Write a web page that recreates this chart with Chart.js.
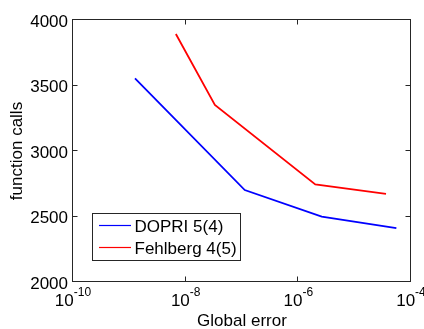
<!DOCTYPE html>
<html>
<head>
<meta charset="utf-8">
<script src="https://cdn.jsdelivr.net/npm/chart.js@4"></script>
<style>
  html, body { margin: 0; padding: 0; background: #fff; }
  #wrap { width: 424px; height: 329px; }
</style>
</head>
<body>
<div id="wrap"><canvas id="grafico" width="424" height="329"></canvas></div>
<script>
// data
const xTickExps = [-10, -8, -6, -4];
const yTicks = [2000, 2500, 3000, 3500, 4000];
const dopriErr = [1.26e-9, 1.12e-7, 2.6e-6, 5.5e-5];
const dopriCalls = [3555, 2702, 2499, 2412];
const fehlErr = [6.7e-9, 3.3e-8, 2.0e-6, 3.6e-5];
const fehlCalls = [3893, 3351, 2745, 2672];
const seriesNames = ['DOPRI 5(4)', 'Fehlberg 4(5)'];
const xTitle = 'Global error';
const yTitle = 'function calls';

const FONT = '"Liberation Sans", Arial, sans-serif';
const AXIS = '#262626';

const toPoints = (xs, ys) => xs.map((x, i) => ({ x: x, y: ys[i] }));

// axes box, inward ticks, labels and legend drawn on top (matlab style)
const matlabAxes = {
  id: 'matlabAxes',
  afterDraw(chart) {
    const ctx = chart.ctx;
    const a = chart.chartArea;
    const sx = chart.scales.x, sy = chart.scales.y;
    const L = a.left - 0.5, R = a.right - 0.5, T = a.top - 0.5, B = a.bottom - 0.5;
    ctx.save();
    ctx.strokeStyle = AXIS;
    ctx.lineWidth = 1;
    ctx.strokeRect(L, T, R - L, B - T);

    ctx.beginPath();
    xTickExps.forEach(e => {
      const px = Math.round(sx.getPixelForValue(Math.pow(10, e))) - 0.5;
      ctx.moveTo(px, B); ctx.lineTo(px, B - 5);
      ctx.moveTo(px, T); ctx.lineTo(px, T + 5);
    });
    yTicks.forEach(v => {
      const py = Math.round(sy.getPixelForValue(v)) - 0.5;
      ctx.moveTo(L, py); ctx.lineTo(L + 5, py);
      ctx.moveTo(R, py); ctx.lineTo(R - 5, py);
    });
    ctx.stroke();

    ctx.fillStyle = '#000';
    // y tick labels
    ctx.font = '17px ' + FONT;
    ctx.textAlign = 'right';
    ctx.textBaseline = 'alphabetic';
    yTicks.forEach(v => {
      ctx.fillText(String(v), a.left - 5, sy.getPixelForValue(v) + 6.5);
    });

    // x tick labels 10^e
    xTickExps.forEach(e => {
      const px = sx.getPixelForValue(Math.pow(10, e));
      ctx.font = '17px ' + FONT;
      const wb = ctx.measureText('10').width;
      ctx.font = '12px ' + FONT;
      const we = ctx.measureText(String(e)).width;
      const x0 = px - (wb + we) / 2;
      ctx.textAlign = 'left';
      ctx.font = '17px ' + FONT;
      ctx.fillText('10', x0, 306);
      ctx.font = '12px ' + FONT;
      ctx.fillText(String(e), x0 + wb, 296);
    });

    // axis titles
    ctx.font = '17px ' + FONT;
    ctx.textAlign = 'center';
    ctx.fillText(xTitle, (a.left + a.right) / 2, 326);
    ctx.save();
    ctx.translate(22, (a.top + a.bottom) / 2);
    ctx.rotate(-Math.PI / 2);
    ctx.fillText(yTitle, 0, 0);
    ctx.restore();

    // legend box
    ctx.fillStyle = '#fff';
    ctx.fillRect(92.5, 213.5, 148, 47);
    ctx.strokeStyle = AXIS;
    ctx.strokeRect(92.5, 213.5, 148, 47);
    chart.data.datasets.forEach((ds, i) => {
      const ly = 225.5 + i * 22;
      ctx.strokeStyle = ds.borderColor;
      ctx.lineWidth = 1.2;
      ctx.beginPath();
      ctx.moveTo(99, ly); ctx.lineTo(131, ly);
      ctx.stroke();
      ctx.fillStyle = '#000';
      ctx.textAlign = 'left';
      ctx.fillText(ds.label, 134.5, ly + 6.5);
    });
    ctx.restore();
  }
};

new Chart(document.getElementById('grafico'), {
  type: 'line',
  data: {
    datasets: [{
      label: seriesNames[0],
      data: toPoints(dopriErr, dopriCalls),
      borderColor: '#0000ff',
      borderWidth: 1.8,
      pointRadius: 0,
      tension: 0
    }, {
      label: seriesNames[1],
      data: toPoints(fehlErr, fehlCalls),
      borderColor: '#ff0000',
      borderWidth: 1.8,
      pointRadius: 0,
      tension: 0
    }]
  },
  options: {
    responsive: false,
    animation: false,
    layout: { padding: { left: 73, top: 20, right: 13, bottom: 47 } },
    plugins: { legend: { display: false }, tooltip: { enabled: false } },
    scales: {
      x: { type: 'logarithmic', min: 1e-10, max: 1e-4, display: false },
      y: { type: 'linear', min: 2000, max: 4000, display: false }
    }
  },
  plugins: [matlabAxes]
});
</script>
</body>
</html>
